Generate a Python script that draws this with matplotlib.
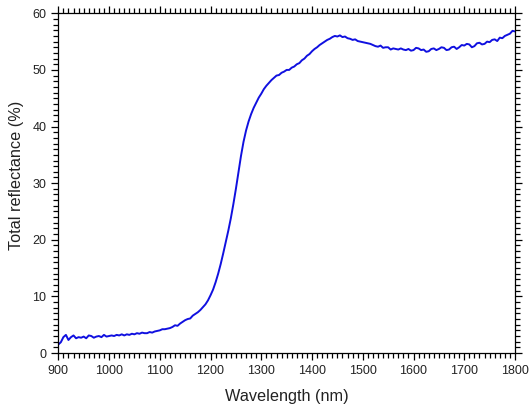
import matplotlib.pyplot as plt
import numpy as np
from matplotlib.ticker import MultipleLocator

plt.rcParams["font.family"] = ["Liberation Sans", "DejaVu Sans"]

# Total reflectance (%) sampled every 5 nm from 900 to 1800 nm
WL_START, WL_STOP, WL_STEP = 900, 1800, 5
reflectance = [
    1.5, 1.9, 2.8, 3.2, 2.3, 2.8, 3.1, 2.6, 2.8, 2.7, 2.9, 2.6, 3.1, 3.0, 2.7, 2.9, 3.0, 2.8, 3.2, 2.9,
    3.0, 3.1, 3.0, 3.2, 3.1, 3.3, 3.1, 3.3, 3.2, 3.4, 3.3, 3.5, 3.4, 3.6, 3.5, 3.5, 3.7, 3.6, 3.8, 3.9,
    4.0, 4.2, 4.2, 4.3, 4.4, 4.6, 4.9, 4.8, 5.2, 5.5, 5.8, 6.0, 6.1, 6.6, 6.9, 7.2, 7.6, 8.1, 8.6, 9.3,
    10.2, 11.2, 12.5, 14.0, 15.7, 17.6, 19.6, 21.6, 23.8, 26.3, 29.0, 31.9, 34.8, 37.3, 39.3, 40.9, 42.2, 43.3, 44.2, 45.1,
    45.8, 46.6, 47.2, 47.7, 48.2, 48.6, 49.0, 49.1, 49.5, 49.7, 50.0, 50.0, 50.4, 50.6, 51.0, 51.2, 51.7, 52.0, 52.5, 52.8,
    53.3, 53.7, 54.0, 54.4, 54.7, 55.0, 55.3, 55.5, 55.8, 56.0, 55.9, 56.1, 55.8, 55.9, 55.6, 55.5, 55.3, 55.4, 55.1, 55.0,
    54.9, 54.8, 54.7, 54.6, 54.4, 54.2, 54.1, 54.3, 53.9, 54.0, 54.0, 53.6, 53.8, 53.7, 53.6, 53.8, 53.6, 53.5, 53.7, 53.4,
    53.5, 53.9, 53.8, 53.5, 53.6, 53.2, 53.3, 53.7, 53.8, 53.5, 53.7, 54.0, 53.9, 53.5, 53.6, 54.0, 54.1, 53.7, 54.0, 54.4,
    54.3, 54.6, 54.5, 54.0, 54.2, 54.7, 54.8, 54.5, 54.6, 55.0, 54.9, 55.3, 55.4, 55.1, 55.7, 55.6, 56.0, 56.2, 56.4, 56.9,
    56.8,
]
wavelength = np.arange(WL_START, WL_STOP + 1, WL_STEP)

fig = plt.figure(figsize=(5.29, 4.05), dpi=100)
ax = fig.add_axes([58.3 / 529, 1 - 353 / 405, (515 - 58.3) / 529, (353 - 13.3) / 405])
ax.plot(wavelength, reflectance, color="#1010e0", lw=1.4)

ax.set_xlim(900, 1800)
ax.set_ylim(0, 60)
ax.xaxis.set_major_locator(MultipleLocator(100))
ax.xaxis.set_minor_locator(MultipleLocator(10))
ax.yaxis.set_major_locator(MultipleLocator(10))
ax.yaxis.set_minor_locator(MultipleLocator(1))
ax.tick_params(which="both", direction="out", top=True, right=True,
               labeltop=False, labelright=False, width=0.9)
ax.tick_params(which="major", length=5, labelsize=9, labelcolor="#222222", pad=3.5)
ax.tick_params(which="minor", length=3.5)
for spine in ax.spines.values():
    spine.set_linewidth(0.9)

ax.set_xlabel("Wavelength (nm)", fontsize=11.7, color="#222222", va="center")
ax.set_ylabel("Total reflectance (%)", fontsize=11.7, color="#222222", va="center")
ax.xaxis.set_label_coords(0.5, -0.127)
ax.yaxis.set_label_coords(-0.0915, 0.524)

fig.savefig("out.png", dpi=100)
